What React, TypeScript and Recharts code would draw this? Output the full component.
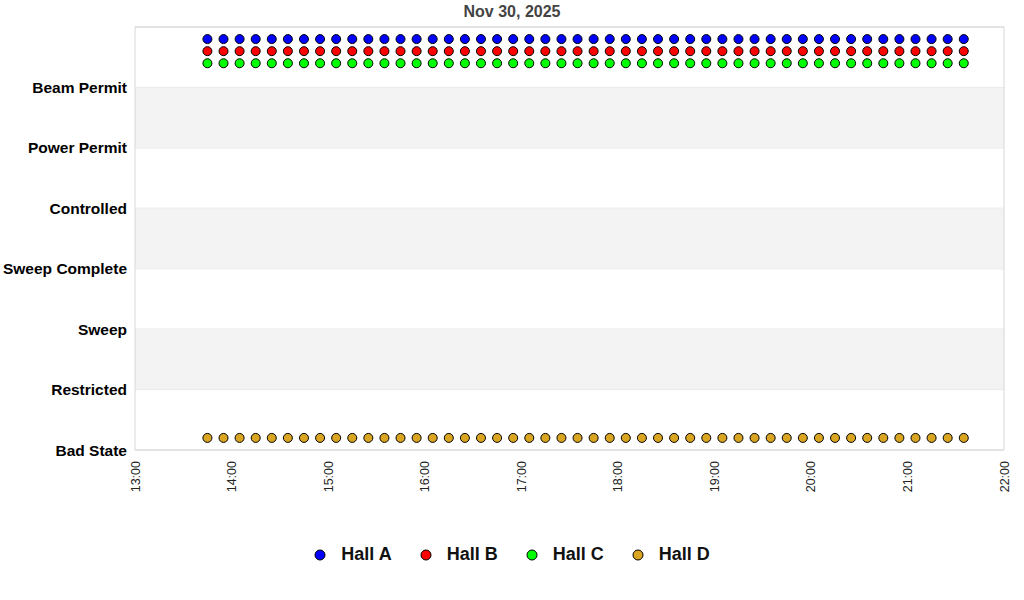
import React from "react"
import {
  ScatterChart,
  Scatter,
  XAxis,
  YAxis,
  CartesianGrid,
  ReferenceArea,
} from "recharts"

// state labels, bottom (0) to top (6)
const STATES = [
  "Bad State",
  "Restricted",
  "Sweep",
  "Sweep Complete",
  "Controlled",
  "Power Permit",
  "Beam Permit",
]

// x ticks, minutes since midnight (13:00 .. 22:00)
const HOUR_TICKS = [780, 840, 900, 960, 1020, 1080, 1140, 1200, 1260, 1320]

// sample times: every 10 min from 13:45 to 21:35
const SAMPLE_TIMES = [
  825, 835, 845, 855, 865, 875, 885, 895, 905, 915, 925, 935,
  945, 955, 965, 975, 985, 995, 1005, 1015, 1025, 1035, 1045, 1055,
  1065, 1075, 1085, 1095, 1105, 1115, 1125, 1135, 1145, 1155, 1165, 1175,
  1185, 1195, 1205, 1215, 1225, 1235, 1245, 1255, 1265, 1275, 1285, 1295,
]

// plotted level per hall (offset a little so they don't overlap)
const HALL_A_LEVEL = 6.8
const HALL_B_LEVEL = 6.6
const HALL_C_LEVEL = 6.4
const HALL_D_LEVEL = 0.2

const HALLS = [
  { name: "Hall A", level: HALL_A_LEVEL, color: "#0000ff" },
  { name: "Hall B", level: HALL_B_LEVEL, color: "#ff0000" },
  { name: "Hall C", level: HALL_C_LEVEL, color: "#00ff00" },
  { name: "Hall D", level: HALL_D_LEVEL, color: "#daa520" },
]

const BANDS = [
  [1, 2],
  [3, 4],
  [5, 6],
]

const fmtHour = (m: number) => `${Math.floor(m / 60)}:00`

function TimeTick(props: any) {
  const { x, y, payload } = props
  return (
    <text
      x={0}
      y={0}
      transform={`translate(${x + 4.5},${y + 3}) rotate(-90)`}
      textAnchor="end"
      fontSize={12.5}
      fill="#222"
    >
      {fmtHour(payload.value)}
    </text>
  )
}

function Dot(props: any) {
  const { cx, cy, fill } = props
  return <circle cx={cx} cy={cy} r={4.5} fill={fill} stroke="#000" strokeWidth={1} />
}

export default function App() {
  return (
    <div
      style={{
        position: "absolute",
        left: 0,
        top: 0,
        width: 1024,
        height: 600,
        background: "#fff",
        fontFamily: "'Liberation Sans', Arial, sans-serif",
      }}
    >
      <div
        style={{
          position: "absolute",
          top: 3,
          width: 1024,
          textAlign: "center",
          fontSize: 16,
          fontWeight: "bold",
          color: "#444",
        }}
      >
        Nov 30, 2025
      </div>
      <ScatterChart
        width={1024}
        height={600}
        margin={{ top: 27, right: 20, left: 0, bottom: 100 }}
      >
        {BANDS.map(([a, b]) => (
          <ReferenceArea key={a} y1={a} y2={b} fill="#f3f3f3" fillOpacity={1} stroke="none" />
        ))}
        <CartesianGrid vertical={false} stroke="#dedede" strokeDasharray="" />
        <ReferenceArea y1={0} y2={7} fill="none" stroke="#d8d8d8" strokeWidth={1} />
        <XAxis
          type="number"
          dataKey="t"
          domain={[780, 1320]}
          ticks={HOUR_TICKS}
          interval={0}
          axisLine={false}
          tickLine={false}
          height={50}
          tick={<TimeTick />}
        />
        <YAxis
          type="number"
          dataKey="v"
          domain={[0, 7]}
          ticks={[0, 1, 2, 3, 4, 5, 6]}
          interval={0}
          width={135}
          axisLine={false}
          tickLine={false}
          tickFormatter={(v: number) => STATES[v]}
          tick={{ fill: "#000", fontSize: 15.5, fontWeight: "bold" }}
        />
        {HALLS.map((h) => (
          <Scatter
            key={h.name}
            name={h.name}
            data={SAMPLE_TIMES.map((t) => ({ t, v: h.level }))}
            fill={h.color}
            shape={<Dot />}
            isAnimationActive={false}
          />
        ))}
      </ScatterChart>
      <div
        style={{
          position: "absolute",
          top: 544,
          left: 0,
          width: 1024,
          display: "flex",
          justifyContent: "center",
          fontSize: 18,
          fontWeight: "bold",
          color: "#111",
        }}
      >
        {HALLS.map((h) => (
          <div key={h.name} style={{ display: "flex", alignItems: "center", margin: "0 14px" }}>
            <svg width={12} height={12} style={{ marginRight: 15 }}>
              <circle cx={6} cy={6} r={5} fill={h.color} stroke="#000" strokeWidth={1} />
            </svg>
            <span>{h.name}</span>
          </div>
        ))}
      </div>
    </div>
  )
}
